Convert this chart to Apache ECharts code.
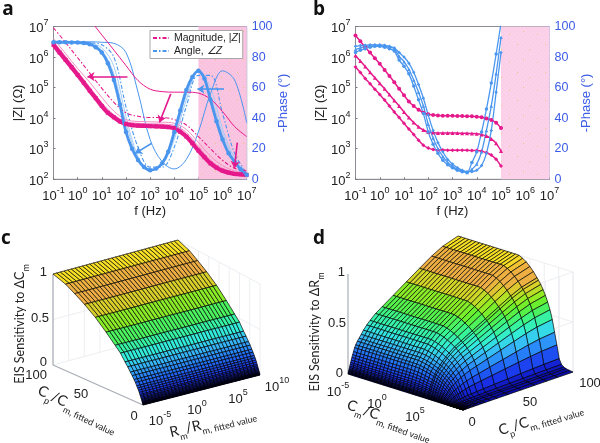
<!DOCTYPE html>
<html><head><meta charset="utf-8">
<style>html,body{margin:0;padding:0;background:#fff}#c{width:600px;height:443px}</style>
<script src="https://cdn.jsdelivr.net/npm/echarts@6/dist/echarts.min.js"></script>
</head><body><div id="c"></div>
<script>
// ---------- panel a ----------
const freqHalfDec = [0.1,0.316,1,3.16,10,31.6,100,316,1e3,3160,1e4,31600,1e5,316000,1e6,3160000,1e7];
const freqQuarterDec = [0.1,0.178,0.316,0.562,1,1.78,3.16,5.62,10,17.8,31.6,56.2,100,178,316,562,1e3,1780,3160,5620,1e4,17800,31600,56200,1e5,178000,316000,562000,1e6,1780000,3160000,5620000,1e7];
const magRef = [2.5e6,1.4e6,8.1e5,4.6e5,2.6e5,1.45e5,7.9e4,4.5e4,2.5e4,1.5e4,1.07e4,7.8e3,6.4e3,5.9e3,5.7e3,5.6e3,5.5e3,5.4e3,5.3e3,5.1e3,4.7e3,3.6e3,2.5e3,1.5e3,870,530,330,240,190,165,150,145,140];
const magThin1 = [3.2e6,1.05e6,3.3e5,1.05e5,3.2e4,1.3e4,7.8e3,6.8e3,6.6e3,6.4e3,5.8e3,3.4e3,1.2e3,430,230,170,160];
const magThin2 = [4e6,1.3e6,4.2e5,1.5e5,4.8e4,1.7e4,9e3,7.8e3,7.6e3,7.4e3,6.8e3,4.3e3,1.6e3,580,280,190,170];
const magDash = [9e6,3e6,9.5e5,3e5,9.5e4,3.3e4,1.5e4,1.15e4,1.05e4,1.05e4,9e3,6e3,2.5e3,1e3,420,230,190];
const magTop = [5.4e8,1.7e8,5.4e7,1.7e7,5.3e6,1.7e6,5.3e5,1.7e5,8.9e4,7.4e4,7.1e4,7.1e4,6.6e4,4.2e4,1.65e4,5.3e3,2.5e3];
const phaseRef = [89.7,89.7,89.7,89.6,89.5,89.2,88.4,86.5,83,76,65,49,31,20,12.7,8,6,7,10.5,18,31,45,58.5,67,71,66,52,38,26,17,11.5,6.5,3];
const phaseThin1 = [89.7,89.7,89.6,88.8,84.3,69,36.7,14,6,10,28,55,71,55,30,12.7,3];
const phaseThin2 = [89.7,89.7,89.6,89,86,74,41,15,6,9.4,26,52,70.5,60,33,14,3.5];
const phaseDash = [89.7,89.7,89.7,89.3,88,80,47.6,21,8,8,21,47.6,68,68,43,17,4];
const phaseTop = [90,90,90,90,89.7,89,83,57,26,11.5,6.8,13,31,56,71,65,37];
// ---------- panel b ----------
const logFreqB = [-1,-.8,-.6,-.4,-.2,0,.2,.4,.6,.8,1,1.2,1.4,1.6,1.8,2,2.2,2.4,2.6,2.8,3,3.2,3.4,3.6,3.8,4,4.2,4.4,4.6,4.8,5];
const magB1 = [5.1e6,3.3e6,2.1e6,1.4e6,9.1e5,6e5,3.8e5,2.4e5,1.5e5,9.1e4,5.6e4,3.5e4,2.5e4,1.9e4,1.5e4,1.35e4,1.26e4,1.23e4,1.2e4,1.2e4,1.2e4,1.17e4,1.17e4,1.15e4,1.15e4,1.12e4,1.07e4,9.8e3,8.7e3,7.1e3,4.8e3];
const magB2 = [1.12e6,7.4e5,4.9e5,3.2e5,2.1e5,1.4e5,9.1e4,5.9e4,3.8e4,2.5e4,1.6e4,1.05e4,7.2e3,5.2e3,4.1e3,3.5e3,3.4e3,3.3e3,3.3e3,3.3e3,3.3e3,3.25e3,3.2e3,3.2e3,3.15e3,3.1e3,2.9e3,2.6e3,2.1e3,1.5e3,850];
const magB3 = [4.7e5,3.1e5,2e5,1.35e5,8.9e4,6e4,3.9e4,2.5e4,1.6e4,1.05e4,6.8e3,4.4e3,2.9e3,1.9e3,1.3e3,1.05e3,950,910,910,900,900,900,890,890,880,870,830,740,620,450,270];
const phaseB1 = [83,84.5,85.5,86.5,87,87,86.5,85.5,84,78,74,69,61,52,43,31,23,17,12.5,9.5,7.5,6,5,4.5,11,18,31,46,63,82,102];
const phaseB2 = [85,86,87,87.3,87.5,87.5,87.2,86.5,85.5,80.5,77,72,65,57,48,36,27,20,15,11,8.5,6.5,5.5,4.5,6.5,10,18,32,48,69,93];
const phaseB3 = [87,87.5,87.8,88,88,88,87.8,87,86,83,80,76,70,62,53,42,32,24,18,13,10,7.5,6,5,5,6,9,17,32,57,83];
// ---------- panels c, d ----------
const cpRows = [100,86,76,65,53,41,31,25,20,17,14,12,10,8.5,7,6,5,4.2,3.5,2.9,2.4,2,1.6,1.3,1,.8,.6,.45,.3,.2,.1,0];
const sensCm = [1,.95,.89,.82,.73,.62,.52,.46,.385,.345,.30,.27,.235,.21,.18,.16,.14,.12,.10,.087,.072,.06,.05,.04,.031,.025,.019,.014,.01,.006,.003,0];
const sensRmByCp = [1,.95,.89,.81,.72,.63,.555,.51,.46,.425,.385,.35,.32,.295,.265,.24,.205,.177,.152,.128,.106,.089,.072,.059,.046,.038,.03,.023,.015,.01,.005,0];
const cmCols = [0,.031,.0625,.094,.125,.156,.1875,.219,.25,.281,.3125,.344,.375,.406,.4375,.469,.5,.531,.5625,.594,.625,.656,.6875,.7,.72,.74,.76,.78,.8,.82,.84,.86,.88,.9,.92,.94,.97,1];
const sensRmByCm = [1,1,1,1,1,1,1,1,1,1,1,1,1,1,1,1,1,.998,.98,.955,.92,.88,.83,.81,.775,.73,.68,.62,.55,.46,.34,.22,.09,.04,.02,.012,.005,0];
const rmColumnCount = 35;
const colorStops = [[0,[10,10,170]],[.1,[25,50,235]],[.22,[35,115,250]],[.33,[55,185,250]],[.42,[50,235,220]],[.52,[55,245,140]],[.62,[95,240,50]],[.69,[150,235,35]],[.77,[215,210,40]],[.84,[238,172,68]],[.93,[238,178,62]],[.96,[245,215,40]],[1,[250,235,30]]];

const PINK='#e5198c', PINKL='#f08cc4', BLUE='#4a96ef', BLUEL='#a5cdf5', AXB='#3c5ce6';
const TXT='#222';
function ramp(w){
  for(let i=1;i<colorStops.length;i++){
    if(w<=colorStops[i][0]){
      const a=colorStops[i-1],b=colorStops[i],k=(w-a[0])/(b[0]-a[0]);
      return 'rgb('+a[1].map((v,n)=>Math.round(v+(b[1][n]-v)*k)).join(',')+')';
    }
  }
  return 'rgb(250,235,30)';
}
function bandPattern(base,dot){
  const c=document.createElement('canvas');c.width=c.height=28;
  const g=c.getContext('2d');g.fillStyle=base;g.fillRect(0,0,28,28);
  g.fillStyle='rgba(255,255,255,.22)';
  for(let y=0;y<28;y+=2)for(let x=y%4;x<28;x+=4)g.fillRect(x,y,1,1);
  g.fillStyle=dot;g.fillRect(5,6,1,1);g.fillRect(19,3,1,1);g.fillRect(13,16,1,1);g.fillRect(25,21,1,1);
  return c;
}
const pair=(xs,ys)=>xs.map((x,i)=>[x,ys[i]]);
const freqB=logFreqB.map(v=>Math.pow(10,v));
function thin(name,xi,yi,xs,ys,color,dash,w){
  return {type:'line',name,xAxisIndex:xi,yAxisIndex:yi,data:pair(xs,ys),showSymbol:false,symbol:'none',smooth:.35,
    lineStyle:{color,width:w||1,type:dash?[4,2,1.5,2]:'solid'},itemStyle:{color},silent:true,animation:false};
}
function beads(xi,yi,xs,ys,color,size,w,sym){
  return {type:'line',xAxisIndex:xi,yAxisIndex:yi,data:pair(xs,ys),symbol:sym||'circle',symbolSize:size,showSymbol:true,showAllSymbol:true,smooth:.3,
    lineStyle:{color,width:w},itemStyle:{color},silent:true,animation:false};
}
function band(gridX,gridY,pat){
  return {type:'line',xAxisIndex:gridX,yAxisIndex:gridY,data:[],silent:true,
    markArea:{silent:true,itemStyle:{color:{image:pat,repeat:'repeat'}},data:[[{xAxis:1e5},{xAxis:1e7}]]}};
}
function arrow(color,segs,curve){
  return {type:'line',xAxisIndex:0,yAxisIndex:0,data:[],silent:true,
    markLine:{silent:true,animation:false,symbol:['none','arrow'],symbolSize:7,label:{show:false},
      lineStyle:{color,width:1.6,type:'solid',curveness:curve||0},
      data:segs.map(s=>[{coord:s[0]},{coord:s[1]}])}};
}
// ---- surfaces: projected through a full-page hidden cartesian grid ----
const projC={ox:143,oy:405,sx:-90,sy:-40,tx:117,ty:-30,kx:8,ky:-4,h:91};
const projD={ox:348,oy:374,sx:110,sy:-38,tx:115,ty:36,kx:0,ky:0,h:100};
function proj(p,s,t,w){return [p.ox+s*p.sx+t*p.tx+s*t*p.kx,p.oy+s*p.sy+t*p.ty+s*t*p.ky-w*p.h];}
function surfaceSeries(p,tCols,wAt){
  const data=[],nCols=tCols.length;
  for(let r=0;r<cpRows.length-1;r++)for(let c=0;c<nCols-1;c++)data.push([r,c]);
  return {type:'custom',coordinateSystem:'cartesian2d',xAxisIndex:2,yAxisIndex:4,data,animation:false,silent:true,clip:false,
    encode:{x:0,y:1},
    renderItem(params,api){
      const r=api.value(0),c=api.value(1);
      const corners=[[r,c],[r,c+1],[r+1,c+1],[r+1,c]];
      const pts=corners.map(q=>api.coord(proj(p,cpRows[q[0]]/100,tCols[q[1]],wAt(q[0],q[1]))));
      const m=corners.reduce((a,q)=>a+wAt(q[0],q[1]),0)/4;
      return {type:'polygon',shape:{points:pts},style:{fill:ramp(m),stroke:'rgba(0,0,0,.85)',lineWidth:.8}};
    }};
}
function wallSeries(p){
  const n=8,segs=[];
  const back=p===projC?[[1,0,1,1],[0,1,1,1]]:[[1,0,1,1],[1,1,0,1]];
  back.forEach(b=>{
    for(let k=0;k<=n;k++){const u=k/n;
      const s=b[0]+(b[2]-b[0])*u,t=b[1]+(b[3]-b[1])*u;
      segs.push([s,t,0,s,t,1]);}
    [0,.5,1].forEach(z=>segs.push([b[0],b[1],z,b[2],b[3],z]));
  });
  return {type:'custom',coordinateSystem:'cartesian2d',xAxisIndex:2,yAxisIndex:4,data:segs,animation:false,silent:true,clip:false,
    encode:{x:0,y:1},
    renderItem(params,api){
      const a=api.coord(proj(p,api.value(0),api.value(1),api.value(2)));
      const b=api.coord(proj(p,api.value(3),api.value(4),api.value(5)));
      return {type:'line',shape:{x1:a[0],y1:a[1],x2:b[0],y2:b[1]},style:{stroke:'#e8eaee',lineWidth:.8}};
    }};
}
function axisSeries(segs){
  return {type:'custom',coordinateSystem:'cartesian2d',xAxisIndex:2,yAxisIndex:4,data:segs,animation:false,silent:true,clip:false,
    encode:{x:0,y:1},
    renderItem(params,api){
      const p=api.value(6)?projD:projC;
      const a=api.coord(proj(p,api.value(0),api.value(1),api.value(2)));
      const b=api.coord(proj(p,api.value(3),api.value(4),api.value(5)));
      return {type:'line',shape:{x1:a[0],y1:a[1],x2:b[0],y2:b[1]},style:{stroke:'#a8adb5',lineWidth:1.2}};
    }};
}
const FONT='"Liberation Sans",Arial,sans-serif', LATO='Lato,"Open Sans",sans-serif';
const supRich={b:{fontSize:13,fontFamily:FONT,color:TXT,lineHeight:17,verticalAlign:'bottom'},s:{fontSize:9,fontFamily:FONT,color:TXT,lineHeight:17,verticalAlign:'top'}};
const expFmt=v=>`{b|10}{s|${Math.round(Math.log10(v))}}`;
function gridAxes(i,left,width){
  return {
    grid:{left,top:26.5,width,height:152.8,show:true,borderColor:'#8a8d96',borderWidth:1,backgroundColor:'transparent'},
    x:{type:'log',gridIndex:i,logBase:10,min:.1,max:1e7,name:'f (Hz)',nameLocation:'middle',nameGap:26,
       nameTextStyle:{fontSize:13,fontFamily:FONT,color:TXT},
       axisLine:{lineStyle:{color:'#8a8d96'}},axisTick:{inside:true,length:2,lineStyle:{color:'#777'}},minorTick:{show:false},splitLine:{show:false},
       axisLabel:{formatter:expFmt,rich:supRich,margin:7,hideOverlap:false,showMinLabel:true,showMaxLabel:true}},
    y:{type:'log',gridIndex:i,logBase:10,min:100,max:1e7,position:'left',name:'|Z| (Ω)',nameLocation:'middle',nameRotate:90,nameGap:26,
       nameTextStyle:{fontSize:13,fontFamily:FONT,color:TXT},
       axisLine:{show:true,lineStyle:{color:'#8a8d96'}},axisTick:{show:true,inside:true,length:2,lineStyle:{color:'#777'}},minorTick:{show:false},splitLine:{show:false},
       axisLabel:{formatter:expFmt,rich:supRich,margin:5,showMinLabel:true,showMaxLabel:true}},
    r:{type:'value',gridIndex:i,min:0,max:100,interval:20,position:'right',name:'-Phase (°)',nameLocation:'middle',nameRotate:90,nameGap:30,
       nameTextStyle:{fontSize:13,fontFamily:FONT,color:AXB},
       axisLine:{show:true,lineStyle:{color:'#b6bde8'}},axisTick:{show:true,inside:true,length:2,lineStyle:{color:'#8a96e0'}},splitLine:{show:false},
       axisLabel:{color:AXB,fontSize:12.5,fontFamily:FONT,margin:5}}
  };
}
const A=gridAxes(0,53.5,193.2), B=gridAxes(1,355.5,194);
const hiddenX={type:'value',gridIndex:2,min:0,max:600,show:false};
const hiddenY={type:'value',gridIndex:2,min:0,max:443,inverse:true,show:false};

function T(text,x,y,o){
  o=o||{};
  return {type:'text',x,y,rotation:(o.rot||0)*Math.PI/180,silent:true,z:o.z||50,
    style:{text,fontSize:o.size||13,fontFamily:o.font||FONT,fontWeight:o.weight||'normal',fill:o.fill||TXT,
      align:o.align||'center',verticalAlign:'middle',rich:o.rich}};
}
const expRich={b:{fontSize:13,fontFamily:FONT,fill:TXT,lineHeight:17,verticalAlign:'bottom'},s:{fontSize:9,fontFamily:FONT,fill:TXT,lineHeight:17,verticalAlign:'top'}};
const subRich={m:{fontSize:14.5,fontFamily:LATO,fill:TXT,lineHeight:19,verticalAlign:'top'},s:{fontSize:9,fontFamily:LATO,fill:TXT,lineHeight:19,verticalAlign:'bottom'}};
const zRich={m:{fontSize:12.5,fontFamily:LATO,fill:TXT,lineHeight:17,verticalAlign:'top'},s:{fontSize:9,fontFamily:LATO,fill:TXT,lineHeight:17,verticalAlign:'bottom'}};
const E=(e,x,y)=>T(`{b|10}{s|${e}}`,x,y,{rich:expRich});
const graphics=[
  T('a',8,10,{size:19,weight:'bold',font:'"Open Sans",sans-serif',fill:'#111'}),
  T('b',319,10,{size:19,weight:'bold',font:'"Open Sans",sans-serif',fill:'#111'}),
  T('c',6,239,{size:19,weight:'bold',font:'"Open Sans",sans-serif',fill:'#111'}),
  T('d',319,239,{size:19,weight:'bold',font:'"Open Sans",sans-serif',fill:'#111'}),
  T('1',47,272,{align:'right'}),T('0.5',49,318,{align:'right'}),T('0',47,362,{align:'right'}),
  T('100',47,375,{align:'right'}),T('50',81,394,{}),T('0',134,416,{}),
  E('-5',160,419),E('0',197,408),E('5',238,397),E('10',277,385),
  T('{m|EIS Sensitivity to ΔC}{s|m}',22,324,{rot:90,rich:zRich}),
  T('{m|C}{s|p}{m|/C}{s|m, fitted value}',77,410,{rot:-25.5,rich:subRich}),
  T('{m|R}{s|m}{m|/R}{s|m, fitted value}',213,424,{rot:14,rich:subRich}),
  T('1',345,272,{align:'right'}),T('0.5',346,323,{align:'right'}),T('0',343,373,{align:'right'}),
  E('-5',338,390),E('0',377,402),E('5',415,415),
  T('0',472,422,{}),T('50',530,402,{}),T('100',590,383,{}),
  T('{m|EIS Sensitivity to ΔR}{s|m}',317,332,{rot:90,rich:zRich}),
  T('{m|C}{s|m}{m|/C}{s|m, fitted value}',389,421,{rot:-19.5,rich:subRich}),
  T('{m|C}{s|p}{m|/C}{s|m, fitted value}',541,420,{rot:17,rich:subRich})
];
const patA=bandPattern('#f9c2de','#f2c080'), patB=bandPattern('#fbcfe7','#f2c27a');

const series=[
  band(0,0,patA),band(1,2,patB),
  thin('',0,1,freqHalfDec,phaseThin2,BLUEL),
  thin('',0,1,freqHalfDec,phaseThin1,BLUEL),
  thin('Angle, ∠Z',0,1,freqHalfDec,phaseDash,BLUE,true,1.1),
  thin('',0,1,freqHalfDec,phaseTop,BLUE,false,1),
  thin('',0,0,freqHalfDec,magThin1,PINKL),
  thin('',0,0,freqHalfDec,magThin2,PINKL),
  thin('Magnitude, |Z|',0,0,freqHalfDec,magDash,PINK,true,1.1),
  thin('',0,0,freqHalfDec,magTop,PINK,false,1),
  beads(0,0,freqQuarterDec,magRef,PINK,4,4.2,'rect'),
  beads(0,1,freqQuarterDec,phaseRef,BLUE,4.5,2.8),
  arrow(PINK,[[[115,2.3e5],[2.55,2.3e5]],[[7160,6.24e4],[2430,7180]],[[4.07e6,1585],[3.1e6,229]]]),
  arrow(BLUE,[[[1.15e6,8.9e4],[9.1e4,8.9e4]]]),
  arrow(BLUE,[[[1175,1510],[240,708]]],-.25),
  beads(1,2,freqB,magB1,PINK,4,1.5),
  beads(1,2,freqB,magB2,PINK,4,1.5,'triangle'),
  beads(1,2,freqB,magB3,PINK,4,1.5,'diamond'),
  beads(1,3,freqB,phaseB1,BLUE,3.5,1.3),
  beads(1,3,freqB,phaseB2,BLUE,3.5,1.3,'triangle'),
  beads(1,3,freqB,phaseB3,BLUE,3.5,1.3,'diamond'),
  wallSeries(projC),wallSeries(projD),
  axisSeries([[1,0,0,1,0,1,0],[1,0,0,0,0,0,0],[0,0,0,0,1,0,0],[0,0,0,0,0,1,1],[0,1,0,1,1,0,1],[0,0,0,0,1,0,1]]),
  surfaceSeries(projC,Array.from({length:rmColumnCount},(_,i)=>i/(rmColumnCount-1)),(r,c)=>sensCm[r]),
  surfaceSeries(projD,cmCols,(r,c)=>sensRmByCp[r]*sensRmByCm[c])
];

const chart=echarts.init(document.getElementById('c'),null,{renderer:'canvas',width:600,height:443});
chart.setOption({
  animation:false,backgroundColor:'#fff',
  grid:[A.grid,B.grid,{left:0,top:0,width:600,height:443,show:false}],
  xAxis:[A.x,B.x,hiddenX],
  yAxis:[A.y,A.r,B.y,B.r,hiddenY],
  legend:{show:true,data:['Magnitude, |Z|','Angle, ∠Z'],orient:'vertical',left:150,top:30.5,padding:[2,2,2,2],itemWidth:16,itemHeight:6,itemGap:2,
    backgroundColor:'#fff',borderColor:'#a8a8a8',borderWidth:1,selectedMode:false,z:20,
    itemStyle:{opacity:0},
    formatter:n=>n.startsWith('Mag')?'Magnitude, |{i|Z}|':'Angle, {i|∠Z}',
    textStyle:{fontSize:10.5,fontFamily:FONT,color:TXT,rich:{i:{fontSize:10.5,fontFamily:FONT,fontStyle:'italic',color:TXT}}}},
  series,
  graphic:graphics
});
</script></body></html>
